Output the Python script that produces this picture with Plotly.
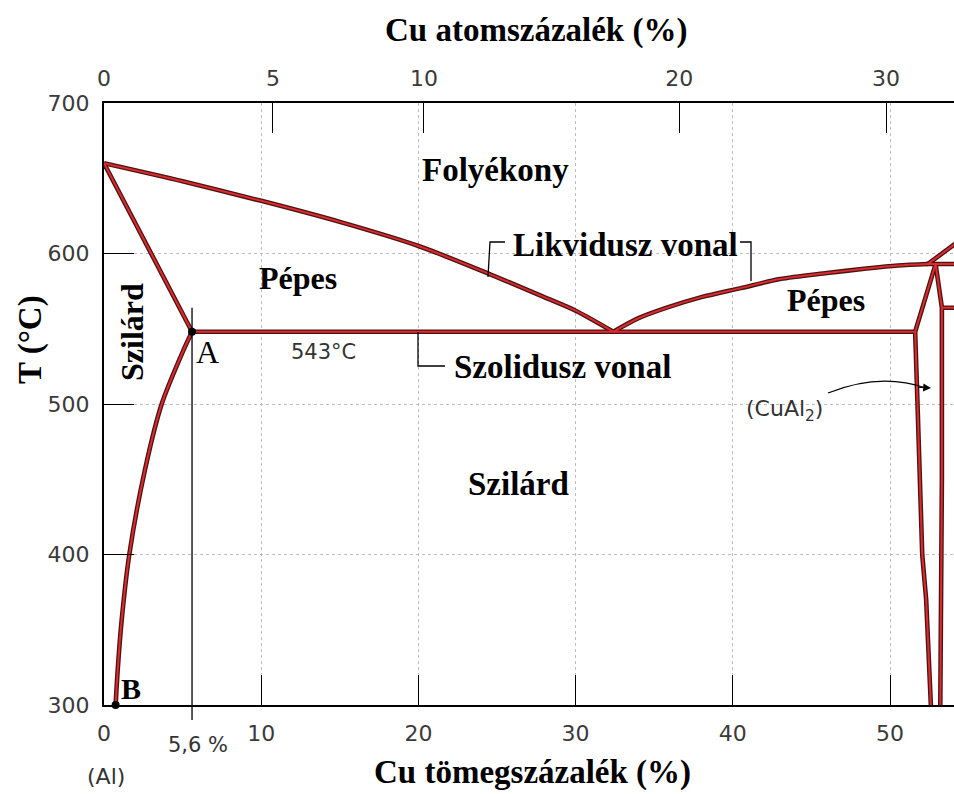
import plotly.graph_objects as go

# ---------------- data ----------------
liq_left_wt = [0, 5, 10, 15, 20, 24.6, 28, 30, 32.4]
liq_left_T = [660, 648, 635, 621, 605, 586, 571, 562, 548]

liq_right_wt = [32.4, 34, 35.8, 38, 40.5, 43, 46, 48.5, 50.5, 52.4]
liq_right_T = [548, 557, 564, 571, 577, 583, 587, 590, 592, 593]

liq_theta_wt = [52.4, 54.1, 55]
liq_theta_T = [593, 606, 613]

solidus_wt = [0, 5.6]
solidus_T = [660, 548]

solvus_wt = [5.6, 4.98, 3.67, 2.6, 1.61, 1.12, 0.87, 0.74]
solvus_T = [548, 534, 500, 456, 400, 356, 323, 300]

eutectic_wt = [5.6, 51.6]
eutectic_T = [548, 548]

theta_left_wt = [52.9, 51.6, 51.75, 52.05, 52.3, 52.6]
theta_left_T = [593, 548, 500, 400, 370, 300]

theta_right_wt = [52.9, 53.3, 53.3, 53.2]
theta_right_T = [593, 564, 450, 300]

peritectic_wt = [52.3, 56]
peritectic_T = [593, 593]

upper_theta_wt = [53.3, 56]
upper_theta_T = [564, 564]

point_wt = [5.6, 0.74]
point_T = [548, 300]

x_ticks = [0, 10, 20, 30, 40, 50]
y_ticks = [300, 400, 500, 600, 700]
at_tick_labels = ["0", "5", "10", "20", "30"]
at_tick_pos_wt = [0, 10.75, 20.35, 36.6, 49.75]

eutectic_comp = 5.6

# ---------------- styling helpers ----------------
PL, PR, PT, PB = 104, 954, 103, 705
XMAX = (PR - PL) / 15.72


def px(x):
    return (x - PL) / (PR - PL)


def py(y):
    return (PB - y) / (PB - PT)


SERIF = "Liberation Serif"
SANS = "DejaVu Sans"
DARK = "#4a1414"
RED = "#dc2a2e"

fig = go.Figure()

curves = [
    (liq_left_wt, liq_left_T, "spline"),
    (liq_right_wt, liq_right_T, "spline"),
    (liq_theta_wt, liq_theta_T, "linear"),
    (solidus_wt, solidus_T, "linear"),
    (solvus_wt, solvus_T, "spline"),
    (eutectic_wt, eutectic_T, "linear"),
    (theta_left_wt, theta_left_T, "linear"),
    (theta_right_wt, theta_right_T, "linear"),
    (peritectic_wt, peritectic_T, "linear"),
    (upper_theta_wt, upper_theta_T, "linear"),
]
for xs, ys, shp in curves:
    fig.add_trace(go.Scatter(x=xs, y=ys, mode="lines",
                             line=dict(color=DARK, width=4.6, shape=shp, smoothing=0.8),
                             hoverinfo="skip", showlegend=False))
for xs, ys, shp in curves:
    fig.add_trace(go.Scatter(x=xs, y=ys, mode="lines",
                             line=dict(color=RED, width=2.0, shape=shp, smoothing=0.8),
                             hoverinfo="skip", showlegend=False))

fig.add_trace(go.Scatter(x=point_wt, y=point_T, mode="markers",
                         marker=dict(color="black", size=8),
                         cliponaxis=False, hoverinfo="skip", showlegend=False))

# invisible trace for top axis
fig.add_trace(go.Scatter(x=[0, XMAX], y=[300, 300], xaxis="x2", mode="lines",
                         line=dict(width=0), hoverinfo="skip", showlegend=False))

shapes = []
# vertical 5.6 % line
shapes.append(dict(type="line", xref="x", yref="paper",
                   x0=eutectic_comp, x1=eutectic_comp,
                   y0=-0.025, y1=(564 - 300) / 400,
                   line=dict(color="black", width=1.3)))


def path(points):
    s = "M " + " L ".join(f"{px(a):.5f},{py(b):.5f}" for a, b in points)
    return s


leaders = [
    [(505, 242), (490, 242), (488, 277)],
    [(740, 242), (751, 242), (751, 281)],
    [(418, 332), (418, 366), (445, 366)],
]
for pts in leaders:
    shapes.append(dict(type="path", xref="paper", yref="paper", path=path(pts),
                       line=dict(color="black", width=1.3)))

# curved arrow for CuAl2
shapes.append(dict(type="path", xref="paper", yref="paper",
                   path=f"M {px(828):.5f},{py(393):.5f} Q {px(880):.5f},{py(372):.5f} {px(926):.5f},{py(388):.5f}",
                   line=dict(color="black", width=1.3)))

annotations = []


def ann(text, x, y, size, family=SERIF, bold=True, color="black", angle=0):
    t = f"<b>{text}</b>" if bold else text
    annotations.append(dict(text=t, x=px(x), y=py(y), xref="paper", yref="paper",
                            xanchor="center", yanchor="middle", showarrow=False,
                            textangle=angle,
                            font=dict(family=family, size=size, color=color)))


ann("Cu atomszázalék (%)", 536, 30, 33)
ann("Cu tömegszázalék (%)", 532, 772, 33)
ann("T (°C)", 30, 340, 33, angle=-90)
ann("Folyékony", 495, 170, 33)
ann("Likvidusz vonal", 625, 245, 33)
ann("Pépes", 298, 278, 32)
ann("Pépes", 826, 300, 32)
ann("Szilárd", 132, 332, 32, angle=-90)
ann("A", 207, 352, 32, bold=False)
ann("543°C", 323, 352, 21, family=SANS, bold=False, color="#333")
ann("Szolidusz vonal", 562, 367, 33)
ann("(CuAl<sub>2</sub>)", 784, 410, 22, family=SANS, bold=False, color="#333")
ann("Szilárd", 518, 484, 33)
ann("B", 131, 688, 30)
ann("5,6 %", 198, 745, 21, family=SANS, bold=False, color="#333")
ann("(Al)", 106, 776, 22, family=SANS, bold=False, color="#333")

annotations.append(dict(x=px(931), y=py(388), xref="paper", yref="paper",
                        ax=-16, ay=-1, text=" ", showarrow=True,
                        arrowhead=2, arrowsize=1.3, arrowwidth=1.2,
                        arrowcolor="black"))

tickfont = dict(family=SANS, size=22, color="#3a3a3a")

fig.update_layout(
    width=954, height=794,
    margin=dict(l=PL, r=954 - PR, t=PT, b=794 - PB),
    paper_bgcolor="white", plot_bgcolor="white",
    showlegend=False,
    shapes=shapes,
    annotations=annotations,
    xaxis=dict(range=[0, XMAX], tickvals=x_ticks,
               ticks="inside", ticklen=30, tickwidth=1.3, tickcolor="black",
               showline=True, linecolor="black", linewidth=2,
               showgrid=True, gridcolor="#bdbdbd", griddash="dot", gridwidth=1,
               zeroline=False, tickfont=tickfont, ticklabelstandoff=8),
    xaxis2=dict(range=[0, XMAX], overlaying="x", side="top",
                tickvals=at_tick_pos_wt, ticktext=at_tick_labels,
                ticks="inside", ticklen=30, tickwidth=1.3, tickcolor="black",
                showline=True, linecolor="black", linewidth=2,
                showgrid=False, zeroline=False, tickfont=tickfont,
                ticklabelstandoff=6),
    yaxis=dict(range=[300, 700], tickvals=y_ticks,
               ticks="inside", ticklen=30, tickwidth=1.3, tickcolor="black",
               showline=True, linecolor="black", linewidth=2,
               showgrid=True, gridcolor="#bdbdbd", griddash="dot", gridwidth=1,
               zeroline=False, tickfont=tickfont, ticklabelstandoff=8),
)

fig.write_html("out.html")
